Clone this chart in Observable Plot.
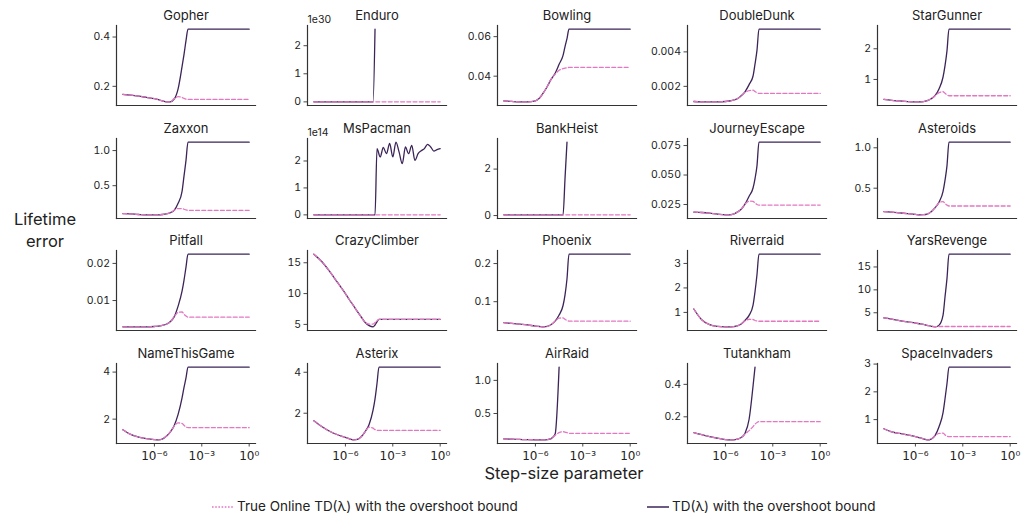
<!DOCTYPE html>
<html><head><meta charset="utf-8">
<script src="https://cdn.jsdelivr.net/npm/d3@7"></script>
<script src="https://cdn.jsdelivr.net/npm/@observablehq/plot@0.6"></script>
<style>
body{margin:0;background:#fff;}
#chart{position:relative;width:1021px;height:516px;overflow:hidden;font-family:Inter,"DejaVu Sans",sans-serif;color:#222;}
#chart svg.panel{position:absolute;}
.lab{position:absolute;white-space:nowrap;}
</style></head><body><div id="chart"></div>
<script>
// ---- data ----
const games = ["Gopher","Enduro","Bowling","DoubleDunk","StarGunner",
  "Zaxxon","MsPacman","BankHeist","JourneyEscape","Asteroids",
  "Pitfall","CrazyClimber","Phoenix","Riverraid","YarsRevenge",
  "NameThisGame","Asterix","AirRaid","Tutankham","SpaceInvaders"];

// log10 of the step-size parameter
const stepExponents = [-8,-7.5,-7,-6.5,-6,-5.75,-5.5,-5.25,-5,-4.75,-4.5,-4.25,-4.125,-4,-3.875,-3.5,-3,-2,-1,0];
const msPacmanExponents = [-8,-7.5,-7,-6.5,-6,-5.5,-5,-4.5,-4.125,-4,-3.8,-3.6,-3.4,-3.2,-3,-2.8,-2.6,-2.4,-2.2,-2,-1.8,-1.6,-1.4,-1.2,-1,-0.8,-0.6,-0.4,-0.2,0];

const gopherTD   = [0.167,0.164,0.160,0.155,0.150,0.146,0.141,0.137,0.137,0.148,0.19,0.28,0.33,0.385,0.432,0.432,0.432,0.432,0.432,0.432];
const gopherTrue = [0.167,0.164,0.160,0.155,0.150,0.146,0.141,0.137,0.137,0.150,0.158,0.155,0.151,0.148,0.147,0.147,0.147,0.147,0.147,0.147];
const enduroTD   = [0.9,0.9,0.9,0.9,0.9,0.9,0.9,0.9,0.9,0.9,0.9,0.9,2.59e30,null,null,null,null,null,null,null];
const enduroTrue = [0.9,0.9,0.9,0.9,0.9,0.9,0.9,0.9,0.9,0.9,0.9,0.9,0.9,0.9,0.9,0.9,0.9,0.9,0.9,0.9];
const bowlingTD   = [0.0275,0.0272,0.027,0.027,0.0275,0.0288,0.0315,0.0348,0.0385,0.0415,0.046,0.0505,0.055,0.059,0.0638,0.0638,0.0638,0.0638,0.0638,0.0638];
const bowlingTrue = [0.0275,0.0272,0.027,0.027,0.0275,0.0288,0.0315,0.0348,0.0385,0.041,0.043,0.0438,0.0441,0.0443,0.0444,0.0445,0.0445,0.0445,0.0445,0.0445];
const doubleDunkTD   = [0.00112,0.0011,0.0011,0.0011,0.00112,0.00115,0.0012,0.00128,0.00145,0.0017,0.0021,0.0026,0.0033,0.0041,0.00532,0.00532,0.00532,0.00532,0.00532,0.00532];
const doubleDunkTrue = [0.00112,0.0011,0.0011,0.0011,0.00112,0.00115,0.0012,0.00128,0.00145,0.00165,0.00175,0.00178,0.0017,0.00163,0.00159,0.00159,0.00159,0.00159,0.00159,0.00159];
const starGunnerTD   = [0.35,0.32,0.30,0.28,0.27,0.27,0.28,0.31,0.37,0.48,0.70,1.08,1.45,1.94,2.64,2.64,2.64,2.64,2.64,2.64];
const starGunnerTrue = [0.35,0.32,0.30,0.28,0.27,0.27,0.28,0.31,0.37,0.47,0.57,0.60,0.55,0.50,0.47,0.47,0.47,0.47,0.47,0.47];
const zaxxonTD   = [0.104,0.098,0.09,0.085,0.085,0.086,0.09,0.098,0.115,0.15,0.25,0.42,0.64,0.86,1.12,1.12,1.12,1.12,1.12,1.12];
const zaxxonTrue = [0.104,0.098,0.09,0.085,0.085,0.086,0.09,0.098,0.115,0.15,0.175,0.175,0.165,0.155,0.15,0.15,0.15,0.15,0.15,0.15];
const msPacmanTD   = [1,1,1,1,1,1,1,1,1,2.46e14,2.15e14,2.5e14,2.27e14,2.65e14,2.15e14,2.7e14,2.33e14,1.9e14,2.52e14,2.27e14,2.58e14,2.02e14,2.27e14,2.38e14,2.46e14,2.62e14,2.52e14,2.37e14,2.42e14,2.46e14];
const msPacmanTrue = [1,1,1,1,1,1,1,1,1,1,1,1,1,1,1,1,1,1,1,1,1,1,1,1,1,1,1,1,1,1];
const bankHeistTD   = [0.03,0.03,0.03,0.03,0.03,0.03,0.03,0.03,0.03,0.03,0.03,0.03,1.6,3.16,null,null,null,null,null,null];
const bankHeistTrue = [0.03,0.03,0.03,0.03,0.03,0.03,0.03,0.03,0.03,0.03,0.03,0.03,0.03,0.03,0.03,0.03,0.03,0.03,0.03,0.03];
const journeyEscapeTD   = [0.0186,0.0182,0.0176,0.0168,0.0162,0.0162,0.0168,0.0185,0.021,0.0255,0.032,0.039,0.047,0.058,0.0779,0.0779,0.0779,0.0779,0.0779,0.0779];
const journeyEscapeTrue = [0.0186,0.0182,0.0176,0.0168,0.0162,0.0162,0.0168,0.0185,0.021,0.0255,0.0278,0.0276,0.0262,0.025,0.0245,0.0245,0.0245,0.0245,0.0245,0.0245];
const asteroidsTD   = [0.21,0.205,0.195,0.185,0.175,0.17,0.172,0.18,0.21,0.26,0.33,0.46,0.60,0.78,1.07,1.07,1.07,1.07,1.07,1.07];
const asteroidsTrue = [0.21,0.205,0.195,0.185,0.175,0.17,0.172,0.18,0.21,0.26,0.32,0.335,0.31,0.29,0.28,0.28,0.28,0.28,0.28,0.28];
const pitfallTD   = [0.0029,0.0029,0.0029,0.0029,0.003,0.0031,0.0033,0.0036,0.0043,0.0056,0.0085,0.0125,0.0155,0.019,0.0225,0.0225,0.0225,0.0225,0.0225,0.0225];
const pitfallTrue = [0.0029,0.0029,0.0029,0.0029,0.003,0.0031,0.0033,0.0036,0.0043,0.0056,0.0068,0.0069,0.0063,0.0058,0.0055,0.0055,0.0055,0.0055,0.0055,0.0055];
const crazyClimberTD   = [16.4,15.2,13.6,11.8,10.0,9.0,8.1,7.1,6.2,5.3,4.8,4.6,4.9,5.4,5.82,5.82,5.82,5.82,5.82,5.82];
const crazyClimberTrue = [16.4,15.2,13.6,11.8,10.0,9.0,8.1,7.1,6.2,5.3,5.05,5.05,5.3,5.6,5.82,5.82,5.82,5.82,5.82,5.82];
const phoenixTD   = [0.045,0.043,0.041,0.039,0.036,0.035,0.034,0.035,0.040,0.049,0.065,0.090,0.118,0.160,0.2247,0.2247,0.2247,0.2247,0.2247,0.2247];
const phoenixTrue = [0.045,0.043,0.041,0.039,0.036,0.035,0.034,0.035,0.040,0.049,0.057,0.0575,0.054,0.051,0.049,0.049,0.049,0.049,0.049,0.049];
const riverraidTD   = [1.14,0.70,0.50,0.43,0.41,0.41,0.42,0.45,0.53,0.68,0.88,1.3,1.85,2.55,3.38,3.38,3.38,3.38,3.38,3.38];
const riverraidTrue = [1.14,0.70,0.50,0.43,0.41,0.41,0.42,0.45,0.53,0.66,0.72,0.71,0.67,0.65,0.64,0.64,0.64,0.64,0.64,0.64];
const yarsRevengeTD   = [3.9,3.6,3.3,3.0,2.75,2.6,2.45,2.25,2.05,1.92,2.3,4.5,8.5,12.5,17.8,17.8,17.8,17.8,17.8,17.8];
const yarsRevengeTrue = [3.9,3.6,3.3,3.0,2.75,2.6,2.45,2.25,2.05,1.95,2.0,2.0,2.0,2.0,2.0,2.0,2.0,2.0,2.0,2.0];
const nameThisGameTD   = [1.55,1.35,1.24,1.17,1.13,1.12,1.15,1.27,1.45,1.72,2.2,2.9,3.35,3.75,4.21,4.21,4.21,4.21,4.21,4.21];
const nameThisGameTrue = [1.55,1.35,1.24,1.17,1.13,1.12,1.15,1.27,1.45,1.70,1.84,1.82,1.74,1.67,1.64,1.64,1.64,1.64,1.64,1.64];
const asterixTD   = [1.63,1.35,1.12,0.95,0.82,0.75,0.70,0.72,0.85,1.10,1.45,2.15,2.7,3.45,4.25,4.25,4.25,4.25,4.25,4.25];
const asterixTrue = [1.63,1.35,1.12,0.95,0.82,0.75,0.70,0.72,0.85,1.10,1.32,1.27,1.2,1.17,1.16,1.16,1.16,1.16,1.16,1.16];
const airRaidTD   = [0.117,0.112,0.108,0.105,0.103,0.102,0.102,0.105,0.12,0.19,1.2,null,null,null,null,null,null,null,null,null];
const airRaidTrue = [0.117,0.112,0.108,0.105,0.103,0.102,0.102,0.105,0.12,0.17,0.21,0.225,0.22,0.21,0.20,0.20,0.20,0.20,0.20,0.20];
const tutankhamTD   = [0.102,0.09,0.078,0.068,0.06,0.058,0.058,0.062,0.072,0.10,0.185,0.39,0.506,null,null,null,null,null,null,null];
const tutankhamTrue = [0.102,0.09,0.078,0.068,0.06,0.058,0.058,0.062,0.072,0.095,0.115,0.14,0.155,0.165,0.17,0.17,0.17,0.17,0.17,0.17];
const spaceInvadersTD   = [0.67,0.56,0.50,0.45,0.39,0.35,0.31,0.27,0.30,0.43,0.75,1.25,1.75,2.3,2.89,2.89,2.89,2.89,2.89,2.89];
const spaceInvadersTrue = [0.67,0.56,0.50,0.45,0.39,0.35,0.31,0.27,0.30,0.43,0.50,0.51,0.45,0.40,0.39,0.39,0.39,0.39,0.39,0.39];

const tdSeries = [gopherTD,enduroTD,bowlingTD,doubleDunkTD,starGunnerTD,zaxxonTD,msPacmanTD,bankHeistTD,journeyEscapeTD,asteroidsTD,
  pitfallTD,crazyClimberTD,phoenixTD,riverraidTD,yarsRevengeTD,nameThisGameTD,asterixTD,airRaidTD,tutankhamTD,spaceInvadersTD];
const trueSeries = [gopherTrue,enduroTrue,bowlingTrue,doubleDunkTrue,starGunnerTrue,zaxxonTrue,msPacmanTrue,bankHeistTrue,journeyEscapeTrue,asteroidsTrue,
  pitfallTrue,crazyClimberTrue,phoenixTrue,riverraidTrue,yarsRevengeTrue,nameThisGameTrue,asterixTrue,airRaidTrue,tutankhamTrue,spaceInvadersTrue];

const yTicks = [[0.2,0.4],[0,1e30,2e30],[0.04,0.06],[0.002,0.004],[1,2],
  [0.5,1.0],[0,1e14,2e14],[0,2],[0.025,0.05,0.075],[0.5,1.0],
  [0.01,0.02],[5,10,15],[0.1,0.2],[1,2,3],[5,10,15],
  [2,4],[2,4],[0.5,1.0],[0.2,0.4],[1,2,3]];
const yTickLabels = [["0.2","0.4"],["0","1","2"],["0.04","0.06"],["0.002","0.004"],["1","2"],
  ["0.5","1.0"],["0","1","2"],["0","2"],["0.025","0.050","0.075"],["0.5","1.0"],
  ["0.01","0.02"],["5","10","15"],["0.1","0.2"],["1","2","3"],["5","10","15"],
  ["2","4"],["2","4"],["0.5","1.0"],["0.2","0.4"],["1","2","3"]];
const offsetLabels = {1: "1e30", 6: "1e14"};

const xTicks = [1e-6, 1e-3, 1];
const xTickLabels = ["10\u207B\u2076", "10\u207B\u00B3", "10\u2070"];

const seriesNames = ["True Online TD(\u03BB) with the overshoot bound", "TD(\u03BB) with the overshoot bound"];
const colTrue = "#e377c2";
const colTD = "#3b2558";

// ---- layout ----
const colLeft = [116, 307, 497, 687, 877];
const rowTop = [25, 138, 250, 363];
const FW = 139, FH = 80;
const ML = 50, MR = 6, MT = 26, MB = 26;
const chart = document.getElementById("chart");

games.forEach((name, i) => {
  const row = Math.floor(i / 5), col = i % 5;
  const ex = i === 6 ? msPacmanExponents : stepExponents;
  const mk = arr => ex.map((e, j) => ({x: Math.pow(10, e), y: arr[j]})).filter(d => d.y != null);
  const td = mk(tdSeries[i]), tr = mk(trueSeries[i]);
  const ys = td.concat(tr).map(d => d.y);
  const lo = d3.min(ys), hi = d3.max(ys), pad = (hi - lo) * 0.05;
  const yt = yTicks[i], yl = yTickLabels[i];
  const marks = [
    Plot.axisY({ticks: yt, tickFormat: d => yl[yt.indexOf(d)], label: null, tickSize: 3.5, tickPadding: 3, fontSize: 10.5, stroke: "#333", strokeWidth: 0.9, fill: "#222"}),
    Plot.frame({anchor: "left", stroke: "#333", strokeWidth: 1.2}),
    Plot.frame({anchor: "bottom", stroke: "#333", strokeWidth: 1.2}),
    Plot.text([name], {frameAnchor: "top", lineAnchor: "middle", dy: -10, fontSize: 13, fill: "#222"}),
    Plot.line(td, {x: "x", y: "y", stroke: colTD, strokeWidth: 1.3, curve: "monotone-x"}),
    Plot.line(tr, {x: "x", y: "y", stroke: colTrue, strokeWidth: 1.3, strokeDasharray: "4,2.2", curve: "monotone-x"})
  ];
  if (row === 3) marks.push(Plot.axisX({ticks: xTicks, tickFormat: d => xTickLabels[xTicks.indexOf(d)], label: null, tickSize: 3.5, tickPadding: 4, fontSize: 12, fontFamily: "DejaVu Sans", stroke: "#333", strokeWidth: 0.9, fill: "#222"}));
  if (offsetLabels[i]) marks.push(Plot.text([offsetLabels[i]], {frameAnchor: "top-left", textAnchor: "start", lineAnchor: "middle", dy: -6, fontSize: 10.5, fill: "#222"}));
  const svg = Plot.plot({
    width: ML + FW + MR, height: MT + FH + MB,
    marginLeft: ML, marginRight: MR, marginTop: MT, marginBottom: MB,
    style: {background: "none", fontFamily: "Inter, 'DejaVu Sans', sans-serif", overflow: "visible", maxWidth: "none"},
    x: {type: "log", domain: [Math.pow(10, -8.4), Math.pow(10, 0.4)], axis: null},
    y: {domain: [lo - pad, hi + pad], axis: null},
    marks
  });
  svg.classList.add("panel");
  svg.style.left = (colLeft[col] - ML) + "px";
  svg.style.top = (rowTop[row] - MT) + "px";
  chart.appendChild(svg);
});

function addLabel(text, css) {
  const d = document.createElement("div");
  d.className = "lab";
  d.textContent = text;
  Object.assign(d.style, css);
  chart.appendChild(d);
  return d;
}
addLabel("Lifetime", {left: "0px", width: "90px", textAlign: "center", top: "209px", fontSize: "16.5px"});
addLabel("error", {left: "0px", width: "90px", textAlign: "center", top: "231px", fontSize: "16.5px"});
addLabel("Step-size parameter", {left: "464px", width: "200px", textAlign: "center", top: "463px", fontSize: "16.5px"});

// legend
function legendItem(x, color, dash, text) {
  const ns = "http://www.w3.org/2000/svg";
  const s = document.createElementNS(ns, "svg");
  s.setAttribute("width", 24); s.setAttribute("height", 6);
  s.style.position = "absolute"; s.style.left = x + "px"; s.style.top = "504px";
  const l = document.createElementNS(ns, "line");
  l.setAttribute("x1", 0); l.setAttribute("x2", 22); l.setAttribute("y1", 3); l.setAttribute("y2", 3);
  l.setAttribute("stroke", color); l.setAttribute("stroke-width", 1.5);
  if (dash) l.setAttribute("stroke-dasharray", dash);
  s.appendChild(l);
  chart.appendChild(s);
  addLabel(text, {left: (x + 25) + "px", top: "498px", fontSize: "13.5px"});
}
legendItem(212, colTrue, "1.6,1.6", seriesNames[0]);
legendItem(647, colTD, null, seriesNames[1]);
</script></body></html>
